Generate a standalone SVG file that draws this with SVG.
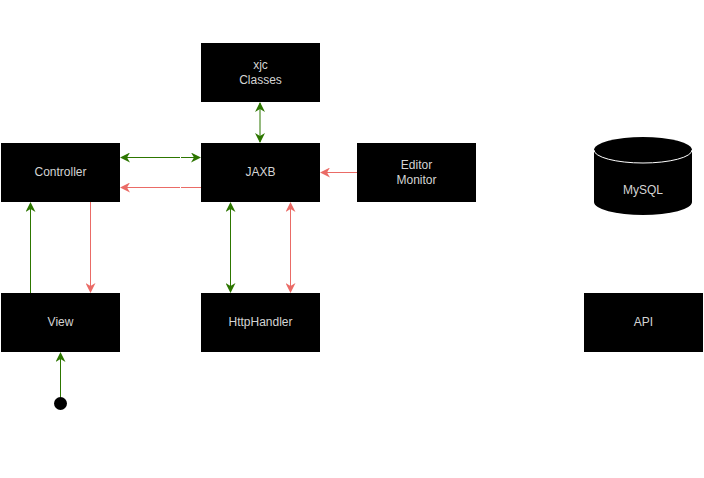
<svg xmlns="http://www.w3.org/2000/svg" width="704" height="478" viewBox="0 0 704 478">
<defs>
<style>
.box{fill:#000;stroke:none}
.lbl{font-family:"Liberation Sans",Arial,sans-serif;font-size:12px;fill:#d4d4d4;text-anchor:middle}
.g{stroke:#2D7600;stroke-width:1;fill:none}
.r{stroke:#EA6B66;stroke-width:1;fill:none}
</style>
<marker id="ag" viewBox="0 0 10 10" refX="9" refY="5" markerWidth="10" markerHeight="10" markerUnits="userSpaceOnUse" orient="auto-start-reverse">
<path d="M0,0 L10,5 L0,10 L3,5 Z" fill="#2D7600"/>
</marker>
<marker id="ar" viewBox="0 0 10 10" refX="9" refY="5" markerWidth="10" markerHeight="10" markerUnits="userSpaceOnUse" orient="auto-start-reverse">
<path d="M0,0 L10,5 L0,10 L3,5 Z" fill="#EA6B66"/>
</marker>
</defs>
<rect width="704" height="478" fill="#fff"/>
<g id="connectors">
<line class="g" x1="260" y1="103" x2="260" y2="142" marker-start="url(#ag)" marker-end="url(#ag)"/>
<line class="g" x1="121" y1="157.5" x2="180" y2="157.5" marker-start="url(#ag)"/>
<line class="g" x1="181" y1="157.5" x2="200" y2="157.5" marker-end="url(#ag)"/>
<line class="r" x1="121" y1="187.5" x2="180" y2="187.5" marker-start="url(#ar)"/>
<line class="r" x1="181" y1="187.5" x2="201" y2="187.5"/>
<line class="r" x1="357" y1="172.5" x2="321" y2="172.5" marker-end="url(#ar)"/>
<line class="g" x1="230.5" y1="203" x2="230.5" y2="292" marker-start="url(#ag)" marker-end="url(#ag)"/>
<line class="r" x1="290.5" y1="203" x2="290.5" y2="292" marker-start="url(#ar)" marker-end="url(#ar)"/>
<line class="g" x1="30.5" y1="293" x2="30.5" y2="203" marker-end="url(#ag)"/>
<line class="r" x1="90.5" y1="202" x2="90.5" y2="292" marker-end="url(#ar)"/>
<line class="g" x1="60.5" y1="397" x2="60.5" y2="353" marker-end="url(#ag)"/>
</g>
<g id="xjc"><rect class="box" x="201" y="43" width="119" height="59"/><text class="lbl" x="260.5" y="68.5">xjc</text><text class="lbl" x="260.5" y="84">Classes</text></g>
<g id="controller"><rect class="box" x="1" y="143" width="119" height="59"/><text class="lbl" x="60.5" y="176">Controller</text></g>
<g id="jaxb"><rect class="box" x="201" y="143" width="119" height="59"/><text class="lbl" x="260.5" y="176">JAXB</text></g>
<g id="editor"><rect class="box" x="357" y="143" width="119" height="59"/><text class="lbl" x="416.5" y="168.5">Editor</text><text class="lbl" x="416.5" y="184">Monitor</text></g>
<g id="mysql">
<path d="M594,150 A49,13 0 0 1 692,150 L692,202 A49,13 0 0 1 594,202 Z" fill="#000"/>
<path d="M594,150 A49,13 0 0 0 692,150" fill="none" stroke="#fff" stroke-width="1"/>
<text class="lbl" x="643" y="193.5">MySQL</text>
</g>
<g id="view"><rect class="box" x="1" y="293" width="119" height="59"/><text class="lbl" x="60.5" y="326">View</text></g>
<g id="httphandler"><rect class="box" x="201" y="293" width="119" height="59"/><text class="lbl" x="260.5" y="326">HttpHandler</text></g>
<g id="api"><rect class="box" x="584" y="293" width="119" height="59"/><text class="lbl" x="643.5" y="326">API</text></g>
<g id="start"><circle cx="60.5" cy="403.5" r="6.5" fill="#000"/></g>
</svg>
